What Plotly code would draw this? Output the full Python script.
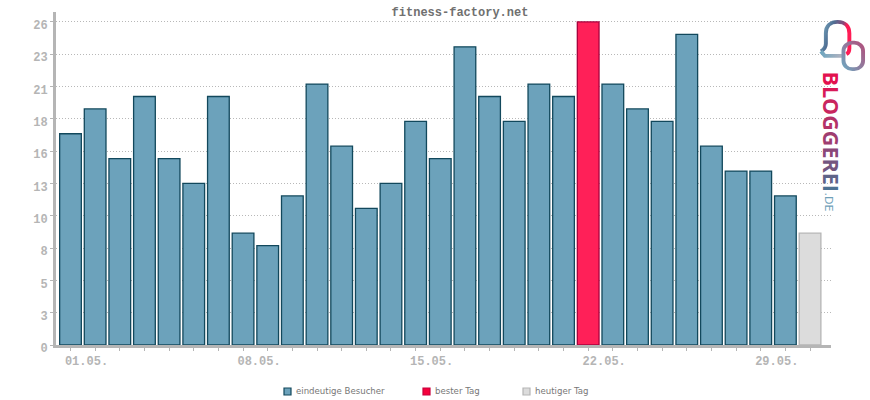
import base64
import plotly.graph_objects as go

# --- DATA ---
DAYS = ["%02d.05." % d for d in range(1, 32)]
VISITORS = [17, 19, 15, 20, 15, 13, 20, 9, 8, 12, 21, 16, 11, 13, 18, 15, 24, 20, 18, 21, 20, 26, 21, 19, 18, 25, 16, 14, 14, 12, 9]
BEST_DAY = "22.05."
TODAY = "31.05."
Y_TICKS = [0, 2.6, 5.2, 7.8, 10.4, 13, 15.6, 18.2, 20.8, 23.4, 26]
Y_LABELS = ["0", "3", "5", "8", "10", "13", "16", "18", "21", "23", "26"]
X_LABELS = ["01.05.", "08.05.", "15.05.", "22.05.", "29.05."]
LEGEND_NAMES = ["eindeutige Besucher", "bester Tag", "heutiger Tag"]
LOGO_LETTERS = list("BLOGGEREI")
LOGO_COLORS = ["#e2124f", "#d81a57", "#c9265f", "#b43268", "#9f3d70", "#8a4878", "#745680", "#5f6488", "#4d7292"]

# --- CONFIGURATION ---
W, H = 870, 400
M_L, M_R, M_T, M_B = 56, 39, 12, 55
GRAY = "#b5b5b5"
BLUE, BLUE_EDGE = "#6ca2bb", "#12485c"
RED, RED_EDGE = "#ff2058", "#a8003c"
LIGHT, LIGHT_EDGE = "#dcdcdc", "#b5b5b5"
MONO = "Liberation Mono"


def px_x(x):
    return (x - M_L) / (W - M_L - M_R)


def px_y(y):
    return 1 - (y - M_T) / (H - M_T - M_B)


LOGO_SVG = """<svg xmlns="http://www.w3.org/2000/svg" viewBox="0 0 48 56">
<defs>
<linearGradient id="a" x1="0" y1="0" x2="1" y2="0.35"><stop offset="0" stop-color="#7fb0c4"/>
<stop offset="0.4" stop-color="#4f6f94"/><stop offset="0.72" stop-color="#8a4a7a"/><stop offset="0.85" stop-color="#ff1c55"/></linearGradient>
<linearGradient id="b" x1="0" y1="1" x2="1" y2="0"><stop offset="0" stop-color="#6fa6bf"/><stop offset="1" stop-color="#b0507c"/></linearGradient>
<linearGradient id="c" x1="0" y1="0" x2="1" y2="0"><stop offset="0" stop-color="#6fa6bf"/><stop offset="1" stop-color="#b9b4c0"/></linearGradient>
</defs>
<path d="M2 33 C5 31 7 29 7 25 L7 14 C7 6 12 2 19 2 C27 2 31 7 31 14 L31 30 C31 33 30 35 28 36" fill="none" stroke="url(#a)" stroke-width="4"/>
<path d="M2 33 L6 38 L26 38" fill="none" stroke="url(#c)" stroke-width="4"/>
<rect x="25" y="24" width="20" height="28" rx="9" fill="none" stroke="url(#b)" stroke-width="4"/>
</svg>"""

# --- CHART ---
fig = go.Figure()
colors = [RED if d == BEST_DAY else LIGHT if d == TODAY else BLUE for d in DAYS]
edges = [RED_EDGE if d == BEST_DAY else LIGHT_EDGE if d == TODAY else BLUE_EDGE for d in DAYS]
fig.add_trace(go.Bar(
    x=list(range(len(DAYS))), y=VISITORS, width=0.88,
    marker=dict(color=colors, line=dict(color=edges, width=1.3)),
    showlegend=False, hovertext=DAYS,
))

fig.update_xaxes(
    range=[-0.588, 30.85],
    tickvals=list(range(len(DAYS))),
    ticktext=[d if d in X_LABELS else "" for d in DAYS],
    ticks="outside", ticklen=3, tickcolor=GRAY, tickwidth=1,
    ticklabelshift=16, ticklabelstandoff=0,
    tickfont=dict(family=MONO, size=12, color=GRAY, weight="bold"),
    showgrid=False, zeroline=False,
    showline=True, linecolor=GRAY, linewidth=3,
)
fig.update_yaxes(
    range=[0, 26.8],
    tickvals=Y_TICKS, ticktext=Y_LABELS,
    ticks="outside", ticklen=3, tickcolor=GRAY, tickwidth=1,
    ticklabelshift=3,
    tickfont=dict(family=MONO, size=12, color=GRAY, weight="bold"),
    showgrid=True, gridcolor="#b8b8b8", griddash="1px,2px", gridwidth=1,
    zeroline=False,
    showline=True, linecolor=GRAY, linewidth=3,
)

# legend laid out by hand, the built-in one puts the swatch too far from its text
shapes, annotations = [], []
for name, lx, fill, edge in zip(LEGEND_NAMES, [284, 423, 523], [BLUE, "#f5003c", LIGHT], [BLUE_EDGE, "#c8003c", LIGHT_EDGE]):
    shapes.append(dict(type="rect", xref="paper", yref="paper", x0=px_x(lx), x1=px_x(lx + 7),
                       y0=px_y(395), y1=px_y(388), fillcolor=fill, line=dict(color=edge, width=1.2)))
    annotations.append(dict(text=name, xref="paper", yref="paper", x=px_x(lx + 10), y=px_y(391.5),
                            xanchor="left", yanchor="middle", showarrow=False,
                            font=dict(family="DejaVu Sans", size=8.6, color="#777777")))

# logo wordmark
wordmark = "".join('<span style="color:%s">%s</span>' % (c, l) for l, c in zip(LOGO_LETTERS, LOGO_COLORS))
annotations.append(dict(text="<b>" + wordmark + "</b>", xref="paper", yref="paper", x=px_x(831), y=px_y(131.5),
                        textangle=90, showarrow=False, xanchor="center", yanchor="middle",
                        font=dict(family="Open Sans", size=21.5)))
annotations.append(dict(text=".DE", xref="paper", yref="paper", x=px_x(828.5), y=px_y(202),
                        textangle=90, showarrow=False, xanchor="center", yanchor="middle",
                        font=dict(family="DejaVu Sans", size=11, color="#6fa0b8")))

fig.update_layout(
    width=W, height=H, margin=dict(l=M_L, r=M_R, t=M_T, b=M_B, autoexpand=False),
    paper_bgcolor="white", plot_bgcolor="white",
    title=dict(text="<b>fitness-factory.net</b>", x=460 / W, xanchor="center", y=1 - 12 / H, yanchor="middle",
               font=dict(family=MONO, size=12, color="#707070")),
    shapes=shapes, annotations=annotations,
    images=[dict(source="data:image/svg+xml;base64," + base64.b64encode(LOGO_SVG.encode()).decode(),
                 xref="paper", yref="paper", x=px_x(819), y=px_y(20), sizex=(866 - 819) / (W - M_L - M_R),
                 sizey=(73 - 20) / (H - M_T - M_B), xanchor="left", yanchor="top", sizing="stretch", layer="above")],
)

# page has a default 8px body margin, that would push everything off
fig.write_html("out.html", config=dict(displayModeBar=False), post_script="document.body.style.margin='0';")
